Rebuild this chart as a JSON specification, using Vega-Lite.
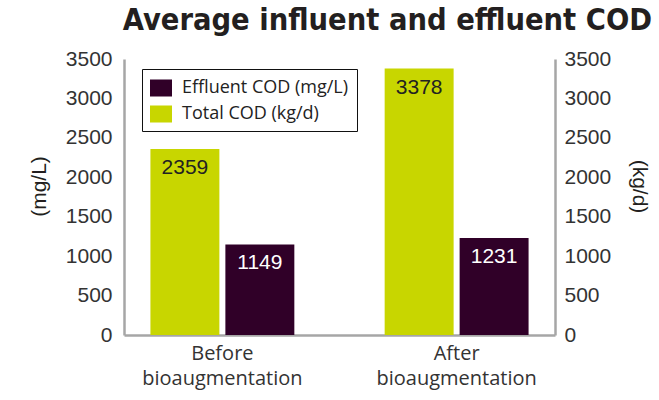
{
  "$schema": "https://vega.github.io/schema/vega-lite/v6.json",
  "width": 431,
  "height": 276,
  "autosize": {"type": "none"},
  "padding": {"left": 124, "top": 59, "right": 104, "bottom": 65},
  "background": "white",
  "config": {
    "view": {"stroke": null},
    "axis": {"ticks": false, "grid": false, "domainColor": "#a6a6a6", "domainWidth": 2.5}
  },
  "title": {
    "text": "Average influent and effluent COD",
    "font": "DejaVu Sans Condensed, Roboto Condensed, Roboto, sans-serif",
    "fontWeight": "bold",
    "fontSize": 30.5,
    "color": "#231f20",
    "anchor": "end",
    "frame": "group",
    "dx": 97,
    "offset": 12
  },
  "data": {
    "values": [
      {"phase": "Before|bioaugmentation", "series": "Total COD (kg/d)", "value": 2359},
      {"phase": "Before|bioaugmentation", "series": "Effluent COD (mg/L)", "value": 1149},
      {"phase": "After|bioaugmentation", "series": "Total COD (kg/d)", "value": 3378},
      {"phase": "After|bioaugmentation", "series": "Effluent COD (mg/L)", "value": 1231}
    ]
  },
  "encoding": {
    "x": {
      "field": "phase",
      "type": "nominal",
      "sort": ["Before|bioaugmentation", "After|bioaugmentation"],
      "scale": {"paddingInner": 0.36, "paddingOuter": 0.1},
      "axis": {
        "title": null,
        "labelAngle": 0,
        "labelExpr": "split(datum.label, '|')",
        "labelFont": "Open Sans",
        "labelFontSize": 20,
        "labelColor": "#333333",
        "labelLineHeight": 25,
        "labelPadding": 8,
        "labelLimit": 300
      }
    },
    "xOffset": {
      "field": "series",
      "type": "nominal",
      "sort": ["Total COD (kg/d)", "Effluent COD (mg/L)"],
      "scale": {"paddingInner": 0.08, "paddingOuter": 0.04}
    }
  },
  "layer": [
    {
      "mark": {"type": "bar"},
      "encoding": {
        "y": {
          "field": "value",
          "type": "quantitative",
          "scale": {"domain": [0, 3500], "nice": false},
          "axis": {
            "title": "(mg/L)",
            "format": "d",
            "values": [0, 500, 1000, 1500, 2000, 2500, 3000, 3500],
            "labelFont": "Liberation Sans",
            "labelFontSize": 21,
            "labelColor": "#333333",
            "labelPadding": 12,
            "titleFont": "Liberation Sans",
            "titleFontSize": 21,
            "titleFontWeight": "normal",
            "titleColor": "#231f20",
            "titlePadding": 16,
            "titleY": 127
          }
        },
        "color": {
          "field": "series",
          "type": "nominal",
          "scale": {
            "domain": ["Effluent COD (mg/L)", "Total COD (kg/d)"],
            "range": ["#300028", "#c8d600"]
          },
          "legend": {
            "title": null,
            "orient": "none",
            "legendX": 18,
            "legendY": 10,
            "strokeColor": "#111111",
            "padding": 8,
            "rowPadding": 6,
            "symbolType": "M-1,-0.773H1V0.773H-1Z",
            "symbolSize": 484,
            "symbolStrokeWidth": 0,
            "symbolOpacity": 1,
            "labelFont": "Open Sans",
            "labelFontSize": 18,
            "labelColor": "#222222",
            "labelOffset": 10,
            "labelLimit": 300
          }
        }
      }
    },
    {
      "mark": {"type": "text", "baseline": "top", "dy": 8, "font": "Liberation Sans", "fontSize": 21},
      "encoding": {
        "y": {
          "field": "value",
          "type": "quantitative",
          "scale": {"domain": [0, 3500], "nice": false},
          "axis": {
            "orient": "right",
            "title": "(kg/d)",
            "format": "d",
            "titleAngle": 90,
            "values": [0, 500, 1000, 1500, 2000, 2500, 3000, 3500],
            "labelFont": "Liberation Sans",
            "labelFontSize": 21,
            "labelColor": "#333333",
            "labelPadding": 9,
            "titleFont": "Liberation Sans",
            "titleFontSize": 21,
            "titleFontWeight": "normal",
            "titleColor": "#231f20",
            "titlePadding": 18,
            "titleY": 127
          }
        },
        "text": {"field": "value", "type": "quantitative", "format": "d"},
        "color": {
          "condition": {"test": "datum.series == 'Effluent COD (mg/L)'", "value": "#ffffff"},
          "value": "#222222"
        }
      }
    }
  ],
  "resolve": {"scale": {"y": "independent"}}
}
